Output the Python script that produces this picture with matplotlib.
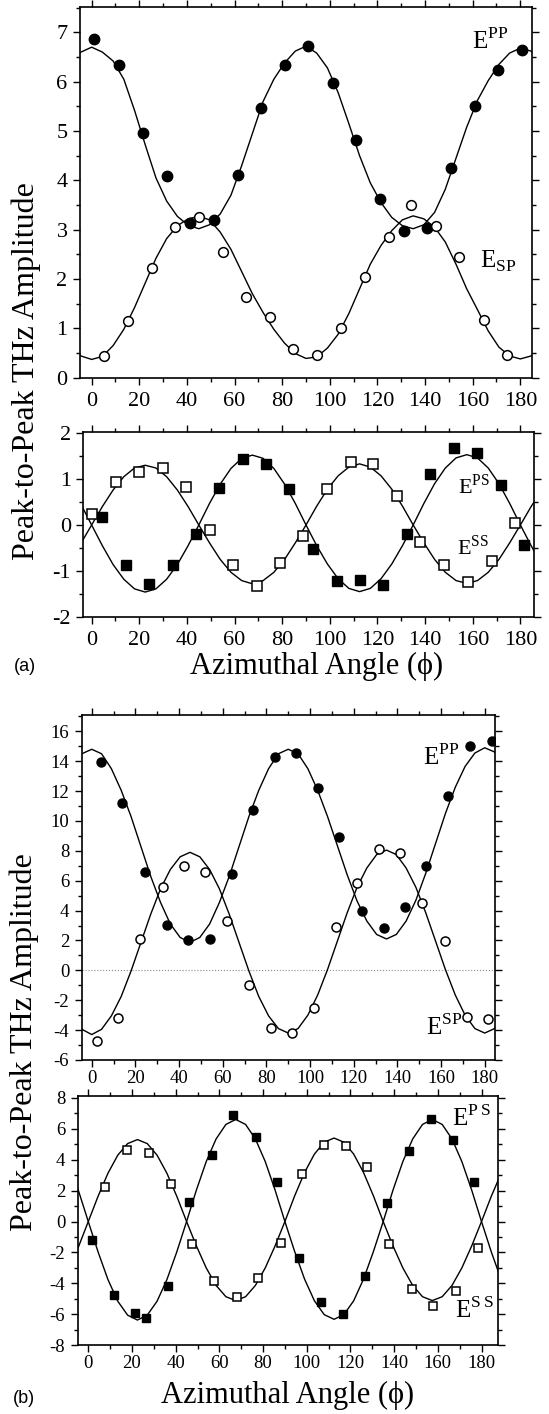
import numpy as np
import matplotlib
matplotlib.use("Agg")
import matplotlib.pyplot as plt
from matplotlib.ticker import MultipleLocator

plt.rcParams["font.family"] = ["Liberation Serif", "DejaVu Serif"]
plt.rcParams["mathtext.fontset"] = "custom"
plt.rcParams["mathtext.rm"] = "Liberation Serif"
plt.rcParams["axes.unicode_minus"] = False

fit_angle = np.arange(-9, 189.1, 4.5)

fit_pp_a = [6.42, 6.60, 6.70, 6.60, 6.42, 6.05, 5.42, 4.72, 4.05, 3.58, 3.27, 3.09,
            3.02, 3.10, 3.32, 3.70, 4.30, 4.95, 5.60, 6.05, 6.38, 6.62, 6.72, 6.58,
            6.28, 5.78, 5.15, 4.50, 3.95, 3.55, 3.25, 3.08, 3.02, 3.10, 3.35, 3.82,
            4.45, 5.08, 5.62, 6.02, 6.35, 6.58, 6.68, 6.62, 6.42]
fit_sp_a = [0.65, 0.44, 0.37, 0.43, 0.65, 0.98, 1.42, 1.92, 2.42, 2.82, 3.08, 3.22,
            3.27, 3.20, 2.95, 2.60, 2.15, 1.70, 1.32, 0.98, 0.70, 0.49, 0.39, 0.42,
            0.60, 0.88, 1.30, 1.80, 2.30, 2.68, 2.98, 3.20, 3.28, 3.22, 3.05, 2.75,
            2.30, 1.80, 1.38, 0.95, 0.62, 0.44, 0.38, 0.44, 0.65]
fit_ss_a = [-0.76, -0.40, 0.00, 0.40, 0.76, 1.05, 1.24, 1.30, 1.24, 1.05, 0.76, 0.40,
            0.00, -0.39, -0.75, -1.03, -1.21, -1.28, -1.21, -1.03, -0.75, -0.39, 0.00,
            0.41, 0.78, 1.07, 1.26, 1.33, 1.26, 1.07, 0.78, 0.41, 0.00, -0.39, -0.75,
            -1.03, -1.21, -1.27, -1.21, -1.03, -0.75, -0.39, 0.00, 0.40, 0.76]
fit_ps_a = [0.86, 0.45, 0.00, -0.45, -0.86, -1.18, -1.39, -1.46, -1.39, -1.18, -0.86,
            -0.45, 0.00, 0.47, 0.89, 1.23, 1.45, 1.52, 1.45, 1.23, 0.89, 0.47, 0.00,
            -0.45, -0.85, -1.17, -1.38, -1.45, -1.38, -1.17, -0.85, -0.45, 0.00, 0.47,
            0.90, 1.24, 1.46, 1.53, 1.46, 1.24, 0.90, 0.47, 0.00, -0.45, -0.86]
fit_pp_b = [13.50, 14.50, 14.80, 14.50, 13.50, 12.05, 10.30, 8.30, 6.30, 4.55, 3.10,
            2.20, 1.87, 2.20, 3.10, 4.55, 6.30, 8.30, 10.30, 12.05, 13.50, 14.50, 14.80,
            14.50, 13.50, 12.05, 10.30, 8.35, 6.40, 4.65, 3.30, 2.40, 2.10, 2.40, 3.30,
            4.70, 6.50, 8.50, 10.50, 12.25, 13.65, 14.55, 14.90, 14.62, 13.70]
fit_sp_b = [-2.95, -3.95, -4.30, -3.95, -3.05, -1.75, -0.05, 1.85, 3.75, 5.45, 6.75,
            7.60, 7.90, 7.60, 6.75, 5.45, 3.75, 1.85, -0.05, -1.75, -3.05, -3.90, -4.20,
            -3.90, -3.00, -1.65, 0.05, 1.95, 3.85, 5.55, 6.85, 7.75, 8.05, 7.75, 6.85,
            5.55, 3.85, 1.95, 0.05, -1.65, -3.00, -3.90, -4.20, -3.90, -3.00]
fit_ps_b = [3.80, 2.00, 0.00, -1.97, -3.75, -5.15, -6.05, -6.37, -6.05, -5.15, -3.75,
            -1.97, 0.00, 2.04, 3.88, 5.34, 6.28, 6.60, 6.28, 5.34, 3.88, 2.04, 0.00,
            -1.95, -3.72, -5.12, -6.02, -6.32, -6.02, -5.12, -3.72, -1.95, 0.00, 2.04,
            3.88, 5.34, 6.28, 6.60, 6.28, 5.34, 3.88, 2.04, 0.00, -1.97, -3.75]
fit_ss_b = [-3.12, -1.64, 0.00, 1.64, 3.12, 4.29, 5.04, 5.30, 5.04, 4.29, 3.12, 1.64,
            0.00, -1.58, -3.00, -4.13, -4.86, -5.11, -4.86, -4.13, -3.00, -1.58, 0.00,
            1.67, 3.17, 4.36, 5.13, 5.40, 5.13, 4.36, 3.17, 1.67, 0.00, -1.58, -3.00,
            -4.13, -4.86, -5.11, -4.86, -4.13, -3.00, -1.58, 0.00, 1.64, 3.12]

# ---- measured points ----
pp_a_x = [1.1, 11.5, 21.4, 31.5, 41.5, 51.3, 61.5, 71.0, 81.1, 90.9, 101.4, 110.9,
          121.0, 131.1, 141.0, 151.1, 160.8, 170.6, 180.9]
pp_a_y = [6.86, 6.34, 4.97, 4.09, 3.13, 3.20, 4.11, 5.46, 6.34, 6.73, 5.98, 4.82,
          3.62, 2.98, 3.03, 4.26, 5.51, 6.24, 6.65]
sp_a_x = [5.2, 15.4, 25.2, 35.0, 45.0, 55.0, 65.0, 74.8, 84.7, 94.7, 104.9, 114.7,
          124.8, 134.3, 144.5, 154.3, 164.6, 174.6]
sp_a_y = [0.44, 1.14, 2.22, 3.05, 3.26, 2.55, 1.64, 1.22, 0.58, 0.46, 1.01, 2.05,
          2.86, 3.50, 3.08, 2.44, 1.16, 0.46]

ss_a_x = [0.0, 10.1, 19.9, 30.1, 39.6, 49.7, 59.4, 69.5, 79.1, 88.8, 98.7, 108.7,
          118.2, 128.0, 137.8, 147.9, 157.9, 167.9, 177.9]
ss_a_y = [0.23, 0.93, 1.16, 1.23, 0.83, -0.12, -0.88, -1.32, -0.82, -0.23, 0.78, 1.38,
          1.32, 0.62, -0.36, -0.88, -1.23, -0.78, 0.05]
ps_a_x = [4.2, 14.3, 24.1, 34.0, 43.8, 53.6, 63.4, 73.2, 83.0, 93.0, 102.9, 112.6,
          122.4, 132.5, 142.0, 152.1, 161.9, 171.7, 181.7]
ps_a_y = [0.18, -0.88, -1.29, -0.88, -0.20, 0.80, 1.43, 1.33, 0.78, -0.53, -1.21, -1.20,
          -1.30, -0.20, 1.10, 1.68, 1.56, 0.88, -0.43]

pp_b_x = [4.1, 14.0, 24.4, 34.3, 44.2, 54.1, 64.1, 73.7, 83.9, 93.5, 103.7, 113.3,
          123.6, 133.8, 143.4, 153.0, 163.2, 173.1, 183.5]
pp_b_y = [13.98, 11.19, 6.55, 3.05, 2.01, 2.09, 6.44, 10.74, 14.27, 14.54, 12.19, 8.92,
          3.94, 2.83, 4.21, 7.00, 11.64, 15.05, 15.36]
sp_b_x = [2.3, 12.2, 22.1, 32.5, 42.2, 51.9, 61.8, 72.0, 81.9, 91.8, 101.9, 111.8,
          121.7, 131.5, 141.4, 151.5, 161.7, 171.9, 181.6]
sp_b_y = [-4.75, -3.19, 2.12, 5.55, 7.00, 6.55, 3.32, -1.00, -3.86, -4.19, -2.52, 2.87,
          5.84, 8.11, 7.85, 4.50, 1.94, -3.14, -3.26]

ps_b_x = [1.5, 11.8, 21.4, 26.4, 36.6, 46.2, 56.5, 66.4, 76.6, 86.2, 96.6, 106.5,
          116.4, 126.6, 136.6, 146.9, 156.8, 166.8, 176.7]
ps_b_y = [-1.18, -4.75, -5.93, -6.23, -4.19, 1.27, 4.30, 6.87, 5.48, 2.56, -2.36, -5.22,
          -5.97, -3.54, 1.22, 4.55, 6.66, 5.30, 2.58]
ss_b_x = [7.6, 17.6, 27.8, 37.7, 47.6, 57.7, 67.9, 77.5, 88.1, 97.7, 107.9, 117.8,
          127.7, 137.6, 148.0, 157.9, 168.1, 178.2]
ss_b_y = [2.23, 4.62, 4.45, 2.45, -1.42, -3.82, -4.85, -3.67, -1.40, 3.05, 4.98, 4.88,
          3.52, -1.46, -4.36, -5.43, -4.47, -1.68]


def style(ax, xlim, ylim, ymaj, ymin, size, xpad, ypad):
    ax.set_xlim(*xlim)
    ax.set_ylim(*ylim)
    ax.xaxis.set_major_locator(MultipleLocator(20))
    ax.xaxis.set_minor_locator(MultipleLocator(10))
    ax.yaxis.set_major_locator(MultipleLocator(ymaj))
    ax.yaxis.set_minor_locator(MultipleLocator(ymin))
    ax.tick_params(which="both", direction="out", top=True, right=True, width=1.0,
                   labelsize=size)
    ax.tick_params(which="major", length=5)
    ax.tick_params(which="minor", length=3)
    ax.tick_params(axis="x", pad=xpad)
    ax.tick_params(axis="y", pad=ypad)
    for s in ax.spines.values():
        s.set_linewidth(1.2)


def fit(ax, y):
    ax.plot(fit_angle, y, color="black", lw=1.0, zorder=2)


def filled(ax, x, y, m, ms):
    ax.plot(x, y, ls="none", marker=m, ms=ms, color="black", zorder=3)


def hollow(ax, x, y, m, ms):
    ax.plot(x, y, ls="none", marker=m, ms=ms, mfc="white", mec="black", mew=1.1, zorder=3)


def elabel(ax, x, y, s, size):
    ax.text(x, y, s, transform=ax.transAxes, fontsize=size, ha="left", va="baseline")


fig = plt.figure(figsize=(5.49, 14.14), dpi=100)

# (a) upper
ax1 = fig.add_axes([0.1457, 0.7329, 0.8233, 0.2620])
fit(ax1, fit_pp_a)
fit(ax1, fit_sp_a)
filled(ax1, pp_a_x, pp_a_y, "o", 7.5)
hollow(ax1, sp_a_x, sp_a_y, "o", 7)
style(ax1, (-4.9, 184.9), (0, 7.51), 1, 0.5, 16, 5, 4)
elabel(ax1, 0.867, 0.887, r"$\mathrm{E}^{\mathrm{PP}}$", 18)
elabel(ax1, 0.885, 0.296, r"$\mathrm{E}_{\mathrm{SP}}$", 18)

# (a) lower
ax2 = fig.add_axes([0.1517, 0.5634, 0.8209, 0.1313])
fit(ax2, fit_ss_a)
fit(ax2, fit_ps_a)
filled(ax2, ps_a_x, ps_a_y, "s", 6.5)
hollow(ax2, ss_a_x, ss_a_y, "s", 6.5)
style(ax2, (-3.5, 185.7), (-2.01, 2.03), 1, 0.5, 16, 5, 4)
elabel(ax2, 0.832, 0.668, r"$\mathrm{E}^{\mathrm{PS}}$", 16)
elabel(ax2, 0.829, 0.336, r"$\mathrm{E}^{\mathrm{SS}}$", 16)

# (b) upper
ax3 = fig.add_axes([0.1488, 0.2504, 0.7532, 0.2440])
ax3.axhline(0, color="0.55", lw=0.8, ls=":", zorder=1)
fit(ax3, fit_pp_b)
fit(ax3, fit_sp_b)
filled(ax3, pp_b_x, pp_b_y, "o", 6.5)
hollow(ax3, sp_b_x, sp_b_y, "o", 6.5)
style(ax3, (-4.6, 184.8), (-6, 17.1), 2, 1, 13.5, 2, 4)
elabel(ax3, 0.826, 0.855, r"$\mathrm{E}^{\mathrm{PP}}$", 18)
elabel(ax3, 0.833, 0.0725, r"$\mathrm{E}^{\mathrm{SP}}$", 18)

# (b) lower
ax4 = fig.add_axes([0.1415, 0.0486, 0.7654, 0.1761])
fit(ax4, fit_ps_b)
fit(ax4, fit_ss_b)
filled(ax4, ps_b_x, ps_b_y, "s", 6)
hollow(ax4, ss_b_x, ss_b_y, "s", 6)
style(ax4, (-4.85, 187.5), (-8, 8.1), 2, 1, 13.5, 2, 4)
elabel(ax4, 0.890, 0.880, r"$\mathrm{E}^{\mathrm{P\,S}}$", 18)
elabel(ax4, 0.898, 0.110, r"$\mathrm{E}^{\mathrm{S\,S}}$", 18)

# figure labels
ylab = "Peak-to-Peak THz Amplitude"
xlab = "Azimuthal Angle (\u03d5)"
fig.text(0.0474, 0.7376, ylab, rotation=90, ha="center", va="center", fontsize=23)
fig.text(0.0446, 0.2631, ylab, rotation=90, ha="center", va="center", fontsize=23)
fig.text(0.5774, 0.529, xlab, ha="center", va="center", fontsize=22)
fig.text(0.5246, 0.0134, xlab, ha="center", va="center", fontsize=22)
fig.text(0.0463, 0.5283, "(a)", ha="center", va="center", fontsize=13,
         family=["Liberation Sans", "DejaVu Sans"])
fig.text(0.043, 0.0113, "(b)", ha="center", va="center", fontsize=13,
         family=["Liberation Sans", "DejaVu Sans"])

fig.savefig("out.png", dpi=100)
plt.close(fig)
